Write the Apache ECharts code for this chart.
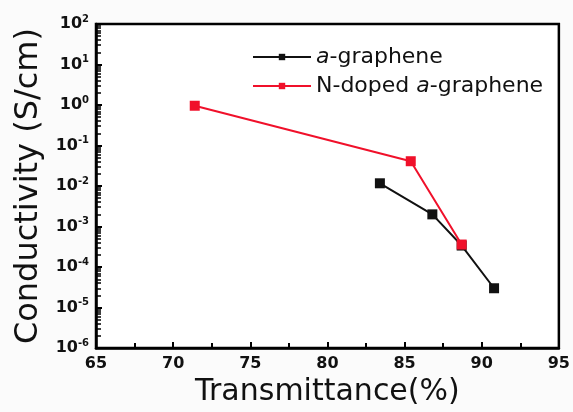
<!DOCTYPE html>
<html>
<head>
    <meta charset="utf-8">
    <title>Conductivity vs Transmittance</title>
    <script src="https://cdn.jsdelivr.net/npm/echarts@6/dist/echarts.min.js"></script>
    <style>
        * { margin: 0; padding: 0; }
        body { background: #fbfbfb; }
    </style>
</head>
<body>
    <div id="main" style="width: 573px; height: 412px;"></div>
    <script type="text/javascript">
        // tick values
        var xTicks = [65, 70, 75, 80, 85, 90, 95];
        var yExps = [-6, -5, -4, -3, -2, -1, 0, 1, 2];

        // a-graphene
        var blackX = [83.4, 86.8, 88.7, 90.8];
        var blackY = [0.0117, 0.0020, 0.00034, 0.00003];
        // N-doped a-graphene
        var redX = [71.4, 85.4, 88.7];
        var redY = [0.96, 0.041, 0.00036];

        var font = 'DejaVu Sans';

        function pairs(xs, ys) {
            return xs.map(function (x, i) { return [x, ys[i]]; });
        }

        var myChart = echarts.init(document.getElementById('main'));

        var option = {
            backgroundColor: '#fbfbfb',
            animation: false,
            grid: {
                left: 96, right: 14, top: 24, bottom: 61,
                show: true,
                backgroundColor: '#fff',
                borderColor: '#000',
                borderWidth: 2.5
            },
            legend: {
                left: 247,
                top: 41,
                orient: 'vertical',
                itemWidth: 58,
                itemHeight: 8,
                itemGap: 7,
                data: ['a-graphene', 'N-doped a-graphene'],
                formatter: function (name) {
                    return name.replace('a-graphene', '{i|a}-graphene');
                },
                textStyle: {
                    fontFamily: font,
                    fontSize: 22,
                    color: '#111',
                    rich: {
                        i: { fontFamily: font, fontSize: 22, fontStyle: 'italic', color: '#111' }
                    }
                }
            },
            xAxis: {
                type: 'value',
                min: xTicks[0],
                max: xTicks[xTicks.length - 1],
                interval: 5,
                name: 'Transmittance(%)',
                nameLocation: 'middle',
                nameGap: 25,
                nameTextStyle: { fontFamily: font, fontSize: 30, color: '#111' },
                axisLine: { lineStyle: { color: '#000', width: 2.5 } },
                axisTick: { inside: true, length: 6, lineStyle: { color: '#000', width: 2 } },
                minorTick: { show: true, splitNumber: 2, length: 5, lineStyle: { color: '#000', width: 2 } },
                splitLine: { show: false },
                axisLabel: {
                    margin: 8,
                    fontFamily: font,
                    fontSize: 16,
                    fontWeight: 'bold',
                    color: '#111'
                }
            },
            yAxis: {
                type: 'log',
                logBase: 10,
                min: Math.pow(10, yExps[0]),
                max: Math.pow(10, yExps[yExps.length - 1]),
                name: 'Conductivity (S/cm)',
                nameLocation: 'middle',
                nameGap: 50,
                nameTextStyle: { fontFamily: font, fontSize: 32, color: '#111' },
                axisLine: { lineStyle: { color: '#000', width: 2.5 } },
                axisTick: { inside: true, length: 6, lineStyle: { color: '#000', width: 2 } },
                minorTick: { show: true, splitNumber: 9, length: 5, lineStyle: { color: '#000', width: 1.5 } },
                splitLine: { show: false },
                axisLabel: {
                    margin: 7,
                    formatter: function (v) {
                        var e = Math.round(Math.log10(v));
                        return '{b|10}{s|' + e + '}';
                    },
                    rich: {
                        b: { fontFamily: font, fontSize: 16, fontWeight: 'bold', color: '#111' },
                        s: { fontFamily: font, fontSize: 10, fontWeight: 'bold', color: '#111', padding: [0, 0, 10, 0] }
                    }
                }
            },
            series: [
                {
                    name: 'a-graphene',
                    type: 'line',
                    data: pairs(blackX, blackY),
                    symbol: 'rect',
                    symbolSize: 10,
                    itemStyle: { color: '#111' },
                    lineStyle: { color: '#111', width: 2 },
                    z: 2
                },
                {
                    name: 'N-doped a-graphene',
                    type: 'line',
                    data: pairs(redX, redY),
                    symbol: 'rect',
                    symbolSize: 10,
                    itemStyle: { color: '#f0102a' },
                    lineStyle: { color: '#f0102a', width: 2 },
                    z: 3
                }
            ]
        };

        myChart.setOption(option);
    </script>
</body>
</html>
